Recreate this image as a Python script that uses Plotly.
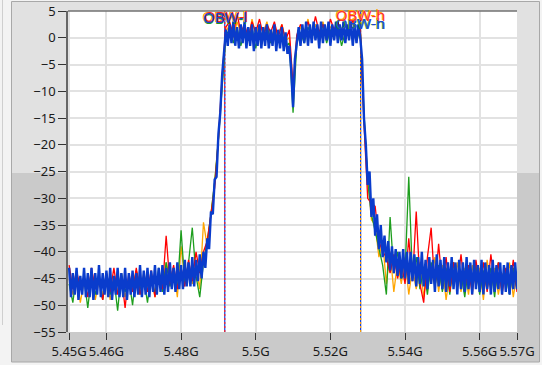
import numpy as np
import plotly.graph_objects as go

# ---------------- data (dB) ----------------
# blue trace: x = 5.45 GHz + 0.0005 GHz * i
blue = [
    -43, -48.5, -44, -48, -43, -49, -44.5, -48, -43, -48.5,
    -44, -48.5, -43, -49, -44, -48, -42.5, -48.5, -44, -48,
    -43.5, -48.5, -43, -49, -44.5, -48, -43, -48.5, -44, -48.5,
    -43, -49, -44, -48, -43.5, -48.5, -44, -48, -42.5, -48.5,
    -43.5, -48, -43, -48.5, -43.5, -47.5, -42.5, -48, -43, -47.5,
    -42.5, -48, -43, -47.5, -42, -47, -43, -47.5, -42, -47,
    -42.5, -47, -41.5, -46.5, -42, -46.5, -41, -46.5, -41.5, -45.5,
    -40.5, -45, -40, -43, -37.5, -39.5, -32.5, -33, -26.5, -26,
    -18, -14, -7, -2, 1.5, -1.5, 2.5, -1, 3, -1.5,
    2, -2, 2.5, -1, 3, -2, 2, -1.5, 2.5, -2.5,
    2, -1.5, 2.5, -2, 2, -1.5, 2.5, -2, 1.5, -1.5,
    2.5, -2.5, 1.5, -2, 2, -2.5, 1, -3, -1.5, -6,
    -13, -4, -0.5, 2, -1.5, 2.5, -1, 3, -1.5, 2.5,
    -1, 3, -0.5, 2.5, -2, 3, -1, 2.5, -0.5, 3,
    -1.5, 2.5, -0.5, 3, -1, 2.5, -0.5, 3, -1, 2.5,
    -0.5, 3, -1.5, 2.5, -1, 2.5, 0, -4, -15, -20,
    -27.5, -25, -33.5, -30, -37, -33, -39.5, -35, -41, -37,
    -42, -38, -43.5, -39, -44, -39.5, -44.5, -40, -45, -39.5,
    -45, -40, -46, -40, -45.5, -40.5, -46.5, -41, -46, -40,
    -46.5, -41.5, -47, -41, -46, -41.5, -47.5, -40.5, -46.5, -41.5,
    -47, -41, -47.5, -42, -46.5, -41, -47, -42, -48, -41.5,
    -47, -42, -47.5, -41, -47, -42, -48, -41.5, -47, -42.5,
    -47.5, -41.5, -48, -42, -47, -42.5, -48, -41.5, -47.5, -42.5,
    -47, -42, -48, -42.5, -47.5, -42, -48, -42.5, -47, -42,
    -47,
]

# red / green / orange traces: x = 5.45 GHz + 0.001 GHz * j
red = [
    -42.5, -47, -43.5, -47, -44.5, -48.5, -43, -47, -45, -49,
    -44, -47.5, -43, -48, -44.5, -50.5, -44, -47.5, -43, -48,
    -44.5, -47.5, -43.5, -48.5, -44, -47, -37, -46, -42.5, -47,
    -43, -46.5, -41.5, -45.5, -40, -44, -40, -38, -33, -28,
    -19, -7, 2, 3, 0.5, 4.5, 1, 2.5, 0, 3,
    1, 3.5, 0.5, 2.5, 1, 3, 0, 2.5, -0.5, 1.5,
    -9, 0.5, 2.5, 1, 3, 0.5, 4, 1, 2.5, 0,
    3.5, 1.5, 3, 0.5, 2.5, 1, 3.5, 0.5, 2, -16,
    -30, -31, -31.5, -38, -40, -41, -44, -40.5, -45, -42,
    -46, -37.5, -45.5, -32.5, -46, -49.5, -41, -35.5, -47, -38.5,
    -46.5, -41, -47.5, -42, -46, -40.5, -47, -42.5, -48, -41.5,
    -46.5, -42, -47.5, -40.5, -46, -42, -48, -43, -47, -41.5,
    -47.5,
]

green = [
    -46, -49.5, -44, -47, -45, -50.5, -44.5, -48, -45, -49,
    -44, -48, -45, -51, -44, -47.5, -45, -50, -43.5, -47,
    -45, -49.5, -44, -48, -43, -47.5, -42, -46.5, -44, -47,
    -36, -46, -42, -35.5, -44.5, -48.5, -42, -38, -33, -27,
    -19, -9, 0.5, 1.5, -1, 2, -1.5, 1, -0.5, 2,
    -2, 1.5, 0, 2.5, -1, 1.5, -0.5, 1, -1.5, -1,
    -14, -1, 1, -1, 2, 0, 1.5, -0.5, 2.5, -1,
    1.5, 0, 2, -1.5, 1, 0.5, 2, -0.5, 1.5, -14,
    -27, -33, -36, -39, -42.5, -48, -33.5, -44, -40, -45,
    -44, -26, -45, -41, -47, -43, -48, -42, -46.5, -42.5,
    -47.5, -43, -48, -42, -46.5, -44, -48.5, -43, -47, -42.5,
    -48, -43.5, -47, -43, -48.5, -42, -47, -44, -48, -43,
    -47,
]

orange = [
    -45, -48, -44, -49.5, -45.5, -47, -44, -49, -45.5, -48,
    -44.5, -49, -45, -47.5, -44, -48.5, -45, -47, -43.5, -48,
    -44, -47, -44.5, -48.5, -43.5, -47, -42, -45, -43, -48.5,
    -39, -45, -42.5, -46, -43, -47, -34.5, -39, -33, -27,
    -19, -8, 1, 2.5, 0, 3, 1, 2, -0.5, 3.5,
    0.5, 2.5, 1, 3, -0.5, 2, 0.5, 2.5, -0.5, 0,
    -11, 0, 2, 1, 3.5, 0, 2.5, 1, 3, 0.5,
    2, 1.5, 3, 0, 2.5, 1, 3, 0.5, 1.5, -15,
    -26, -34, -35, -41, -38, -46, -40, -47.5, -42, -46,
    -41, -48, -43, -47, -42, -48.5, -43.5, -46, -41, -47.5,
    -42.5, -49, -44, -46, -42, -47.5, -43, -48, -42.5, -46.5,
    -43, -49, -41.5, -47, -43, -48, -44, -46.5, -42, -48.5,
    -44,
]

obw_low = 5.4917   # GHz
obw_high = 5.5281  # GHz

x_tickvals = [5.45, 5.46, 5.48, 5.5, 5.52, 5.54, 5.56, 5.57]
x_ticktext = ["5.45G", "5.46G", "5.48G", "5.5G", "5.52G", "5.54G", "5.56G", "5.57G"]
y_tickvals = [5, 0, -5, -10, -15, -20, -25, -30, -35, -40, -45, -50, -55]

x_fine = [round(5.45 + 0.0005 * i, 4) for i in range(len(blue))]
x_coarse = [round(5.45 + 0.001 * j, 4) for j in range(len(red))]

# ---------------- figure ----------------
W, H = 542, 365
L, R, T, B = 68, 25, 11, 33
PW, PH = W - L - R, H - T - B
FONT = "Noto Sans, Open Sans, Liberation Sans, sans-serif"


def px(xp):
    return (xp - L) / PW


def py(yp):
    return (H - B - yp) / PH


fig = go.Figure()

# OBW marker lines (under the traces)
for xv, dcol in [(obw_low, "#ff2020"), (obw_high, "#ffa000")]:
    fig.add_trace(go.Scatter(x=[xv, xv], y=[-55, 5], mode="lines",
                             line=dict(color="#1040e0", width=1.2),
                             hoverinfo="skip", showlegend=False))
    fig.add_trace(go.Scatter(x=[xv, xv], y=[-55, 5], mode="lines",
                             line=dict(color=dcol, width=1.2, dash="2px,2px"),
                             hoverinfo="skip", showlegend=False))

fig.add_trace(go.Scatter(x=x_coarse, y=orange, mode="lines",
                         line=dict(color="#ffa500", width=1.3), showlegend=False))
fig.add_trace(go.Scatter(x=x_coarse, y=green, mode="lines",
                         line=dict(color="#1e9e1e", width=1.3), showlegend=False))
fig.add_trace(go.Scatter(x=x_coarse, y=red, mode="lines",
                         line=dict(color="#ff0000", width=1.3), showlegend=False))
fig.add_trace(go.Scatter(x=x_fine, y=blue, mode="lines",
                         line=dict(color="#0a3ccc", width=2.4), showlegend=False))

# annotations (overlapping coloured copies)
anns = []
for col, dx, dy in [("#ffa500", -1, 1), ("#1e9e1e", 0, -1), ("#ff2020", 1, 1), ("#2040d0", 0, 0)]:
    anns.append(dict(x=obw_low, y=3.9, text="OBW-l", showarrow=False, xref="x", yref="y",
                     xshift=dx, yshift=dy, font=dict(family=FONT, size=15, color=col)))
for col, dx, dy, yv in [("#1e9e1e", -1, 0, 2.8), ("#2040d0", 0, 0, 2.8),
                        ("#ffa500", -1, 1, 4.2), ("#ff3030", 0, 0, 4.2)]:
    anns.append(dict(x=obw_high, y=yv, text="OBW-h", showarrow=False, xref="x", yref="y",
                     xshift=dx, yshift=dy, font=dict(family=FONT, size=15, color=col)))

# background panel shapes
shapes = [
    dict(type="rect", xref="paper", yref="paper", x0=px(0), x1=px(11), y0=py(365), y1=py(0),
         fillcolor="#f3f3f3", line=dict(width=0), layer="below"),
    dict(type="line", xref="paper", yref="paper", x0=px(2.5), x1=px(2.5), y0=py(325), y1=py(0),
         line=dict(color="#cfcfcf", width=1), layer="below"),
    dict(type="rect", xref="paper", yref="paper", x0=px(11.5), x1=px(539.5), y0=py(173), y1=py(1.5),
         fillcolor="#e1e1e1", line=dict(width=0), layer="below"),
    dict(type="rect", xref="paper", yref="paper", x0=px(11.5), x1=px(539.5), y0=py(362), y1=py(173),
         fillcolor="#cacaca", line=dict(width=0), layer="below"),
    dict(type="rect", xref="paper", yref="paper", x0=px(11.5), x1=px(539.5), y0=py(362), y1=py(1.5),
         fillcolor="rgba(0,0,0,0)", line=dict(color="#a8a8a8", width=1), layer="below"),
    dict(type="rect", xref="paper", yref="paper", x0=0, x1=1, y0=0, y1=1,
         fillcolor="#ffffff", line=dict(width=0), layer="below"),
    dict(type="line", xref="paper", yref="paper", x0=0, x1=1, y0=1, y1=1,
         line=dict(color="#707070", width=1.5), layer="above"),
]

fig.update_layout(
    width=W, height=H,
    autosize=False,
    margin=dict(l=L, r=R, t=T, b=B, pad=0, autoexpand=False),
    paper_bgcolor="#f3f3f3",
    plot_bgcolor="#ffffff",
    showlegend=False,
    shapes=shapes,
    annotations=anns,
    font=dict(family=FONT, size=13, color="#1a1a1a"),
)

fig.update_xaxes(
    range=[5.4497, 5.57], tickmode="array", tickvals=x_tickvals, ticktext=x_ticktext,
    tickangle=0, automargin=False,
    showgrid=True, gridcolor="#e2e2e2", gridwidth=1.5,
    ticks="outside", ticklen=7, tickwidth=1, tickcolor="#333333",
    showline=False, zeroline=False,
    tickfont=dict(family=FONT, size=13, color="#1a1a1a"),
)
fig.update_yaxes(
    range=[-55, 5], tickmode="array", tickvals=y_tickvals, automargin=False,
    showgrid=True, gridcolor="#e2e2e2", gridwidth=1.5,
    ticks="outside", ticklen=8, tickwidth=1, tickcolor="#333333",
    showline=True, linecolor="#666666", linewidth=1.5, zeroline=False,
    tickfont=dict(family=FONT, size=13, color="#1a1a1a"),
)

fig.write_html(
    "out.html",
    config={"displayModeBar": False},
    post_script="document.body.style.margin='0';document.body.style.overflow='hidden';",
)
